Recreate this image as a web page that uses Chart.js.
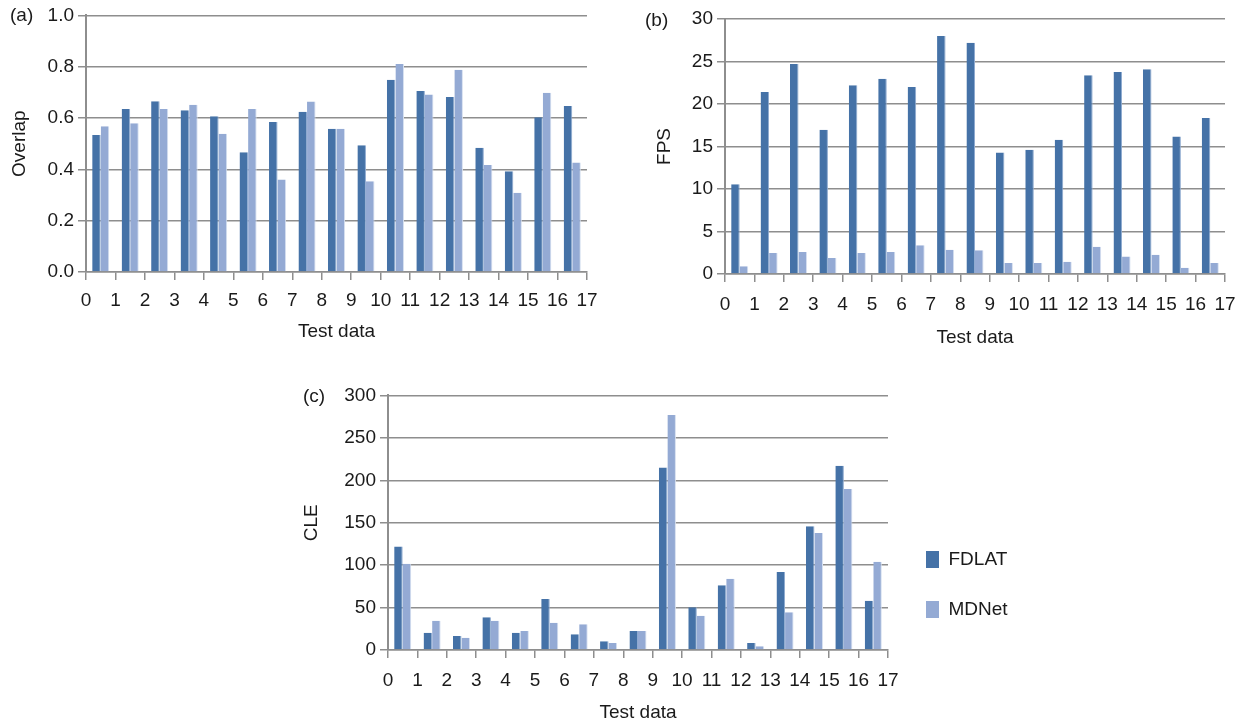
<!DOCTYPE html>
<html>
<head>
<meta charset="utf-8">
<script src="https://cdn.jsdelivr.net/npm/chart.js@4.4.1/dist/chart.umd.min.js"></script>
<style>
  html, body { margin: 0; padding: 0; background: #ffffff; overflow: hidden; }
  canvas { position: absolute; }
</style>
</head>
<body>
<canvas id="chartA" width="610" height="350" style="left:0px;top:0px"></canvas>
<canvas id="chartB" width="607" height="354" style="left:640px;top:0px"></canvas>
<canvas id="chartC" width="740" height="344" style="left:290px;top:380px"></canvas>
<script>
// ---- data ----
const testData = ['1','2','3','4','5','6','7','8','9','10','11','12','13','14','15','16','17'];
const xTicks = [0,1,2,3,4,5,6,7,8,9,10,11,12,13,14,15,16,17];
const seriesNames = ['FDLAT', 'MDNet'];

const overlapFDLAT = [0.534,0.635,0.665,0.630,0.607,0.467,0.585,0.625,0.558,0.494,0.749,0.705,0.682,0.484,0.393,0.603,0.647];
const overlapMDNet = [0.568,0.580,0.635,0.652,0.539,0.635,0.360,0.664,0.558,0.354,0.811,0.692,0.788,0.417,0.309,0.699,0.427];
const overlapTicks = [0,0.2,0.4,0.6,0.8,1.0];

const fpsFDLAT = [10.57,21.4,24.7,16.97,22.2,22.98,22.0,28.0,27.2,14.28,14.63,15.8,23.37,23.76,24.1,16.19,18.34];
const fpsMDNet = [0.9,2.46,2.6,1.87,2.46,2.6,3.39,2.85,2.8,1.29,1.29,1.44,3.2,2.07,2.26,0.74,1.29];
const fpsTicks = [0,5,10,15,20,25,30];

const cleFDLAT = [122,20.4,16.5,38.5,20.4,60,18.5,10.2,22.4,215,50.3,76.2,8.2,91.9,145.7,217,58];
const cleMDNet = [101.7,34.5,14.5,34.5,22.4,32.2,30.2,8.2,22.4,276.8,40.4,84,4.3,44.4,137.8,189.6,104];
const cleTicks = [0,50,100,150,200,250,300];

// ---- styles ----
const FONT = '"Liberation Sans", Arial, sans-serif';
const TEXT = '#1a1a1a';
const GRID = '#8e8e8e';
const DARK = '#4572A7';
const LIGHT = '#94AAD4';
const DARK_EDGE = '#8eaad0';
const LIGHT_EDGE = '#d6e0f0';

function panelLabel(text, x, y) {
  return {
    id: 'panelLabel',
    afterDraw(chart) {
      const ctx = chart.ctx;
      ctx.save();
      ctx.font = '19px ' + FONT;
      ctx.fillStyle = TEXT;
      ctx.textAlign = 'left';
      ctx.textBaseline = 'middle';
      ctx.fillText(text, x, y);
      ctx.restore();
    }
  };
}

function makeChart(id, cfg) {
  const datasets = [
    { label: seriesNames[0], data: cfg.a, backgroundColor: DARK, borderColor: DARK_EDGE,
      borderWidth: {top: 0, right: 1, bottom: 0, left: 0}, xAxisID: 'x', yAxisID: 'y',
      categoryPercentage: 0.58, barPercentage: 1.0 },
    { label: seriesNames[1], data: cfg.b, backgroundColor: LIGHT, borderColor: LIGHT_EDGE,
      borderWidth: {top: 0, right: 1, bottom: 0, left: 0}, xAxisID: 'x', yAxisID: 'y',
      categoryPercentage: 0.58, barPercentage: 1.0 }
  ];
  const scales = {
    x: { type: 'category', display: false, offset: true, labels: testData },
    x2: {
      type: 'linear', position: 'bottom', axis: 'x', offset: false,
      min: xTicks[0], max: xTicks[xTicks.length - 1],
      grid: { display: true, offset: false, drawOnChartArea: false, drawTicks: true, tickLength: 8, color: GRID, lineWidth: 1.5 },
      border: { display: true, color: GRID, width: 1.5 },
      ticks: { stepSize: 1, autoSkip: false, maxRotation: 0, minRotation: 0, padding: cfg.xPad,
               color: TEXT, font: { family: FONT, size: 19 } },
      title: { display: true, text: 'Test data', color: TEXT, font: { family: FONT, size: 19 },
               padding: { top: 0, bottom: cfg.xTitlePad } },
      afterFit(s) { s.height = cfg.xHeight; }
    },
    y: {
      type: 'linear', position: 'left',
      min: cfg.ticks[0], max: cfg.ticks[cfg.ticks.length - 1],
      grid: { color: GRID, lineWidth: 1.5, drawTicks: true, tickLength: 8 },
      border: { display: true, color: GRID, width: 2 },
      ticks: { stepSize: cfg.ticks[1] - cfg.ticks[0], padding: 4, color: TEXT,
               font: { family: FONT, size: 19 },
               callback: cfg.fmt },
      title: { display: true, text: cfg.yTitle, color: TEXT, font: { family: FONT, size: 19 },
               padding: { top: cfg.yTitlePad, bottom: 0 } },
      afterFit(s) { s.width = cfg.yWidth; }
    }
  };
  if (cfg.legend) {
    scales.pad = {
      type: 'linear', axis: 'y', position: 'right', display: true,
      grid: { display: false, drawTicks: false }, border: { display: false },
      ticks: { display: false },
      afterFit(s) { s.width = 7; }
    };
  }
  return new Chart(document.getElementById(id), {
    type: 'bar',
    data: { labels: testData, datasets },
    options: {
      responsive: false,
      animation: false,
      devicePixelRatio: 1,
      layout: { padding: cfg.padding },
      scales,
      plugins: {
        tooltip: { enabled: false },
        legend: cfg.legend ? {
          display: true, position: 'right', align: 'end', fullSize: false, maxWidth: 115,
          labels: {
            boxWidth: 13, boxHeight: 17, padding: 31, color: TEXT,
            font: { family: FONT, size: 19 },
            generateLabels(chart) {
              return Chart.defaults.plugins.legend.labels.generateLabels(chart)
                .map(l => Object.assign(l, { lineWidth: 0, strokeStyle: 'rgba(0,0,0,0)' }));
            }
          }
        } : { display: false }
      }
    },
    plugins: [panelLabel(cfg.panel, cfg.panelX, cfg.panelY)]
  });
}

makeChart('chartA', {
  a: overlapFDLAT, b: overlapMDNet, ticks: overlapTicks, yTitle: 'Overlap',
  fmt: v => Number(v).toFixed(1),
  padding: { top: 15, right: 23, bottom: 0, left: 0 },
  yWidth: 86, yTitlePad: 8, xHeight: 78, xPad: 9, xTitlePad: 7,
  panel: '(a)', panelX: 10, panelY: 16, legend: false
});

makeChart('chartB', {
  a: fpsFDLAT, b: fpsMDNet, ticks: fpsTicks, yTitle: 'FPS',
  fmt: v => String(v),
  padding: { top: 19, right: 22, bottom: 0, left: 0 },
  yWidth: 85, yTitlePad: 13, xHeight: 80, xPad: 11, xTitlePad: 5,
  panel: '(b)', panelX: 5, panelY: 21, legend: false
});

makeChart('chartC', {
  a: cleFDLAT, b: cleMDNet, ticks: cleTicks, yTitle: 'CLE',
  fmt: v => String(v),
  padding: { top: 15, right: 20, bottom: 0, left: 0 },
  yWidth: 98, yTitlePad: 10, xHeight: 74, xPad: 11, xTitlePad: 0,
  panel: '(c)', panelX: 13, panelY: 17, legend: true
});
</script>
</body>
</html>
